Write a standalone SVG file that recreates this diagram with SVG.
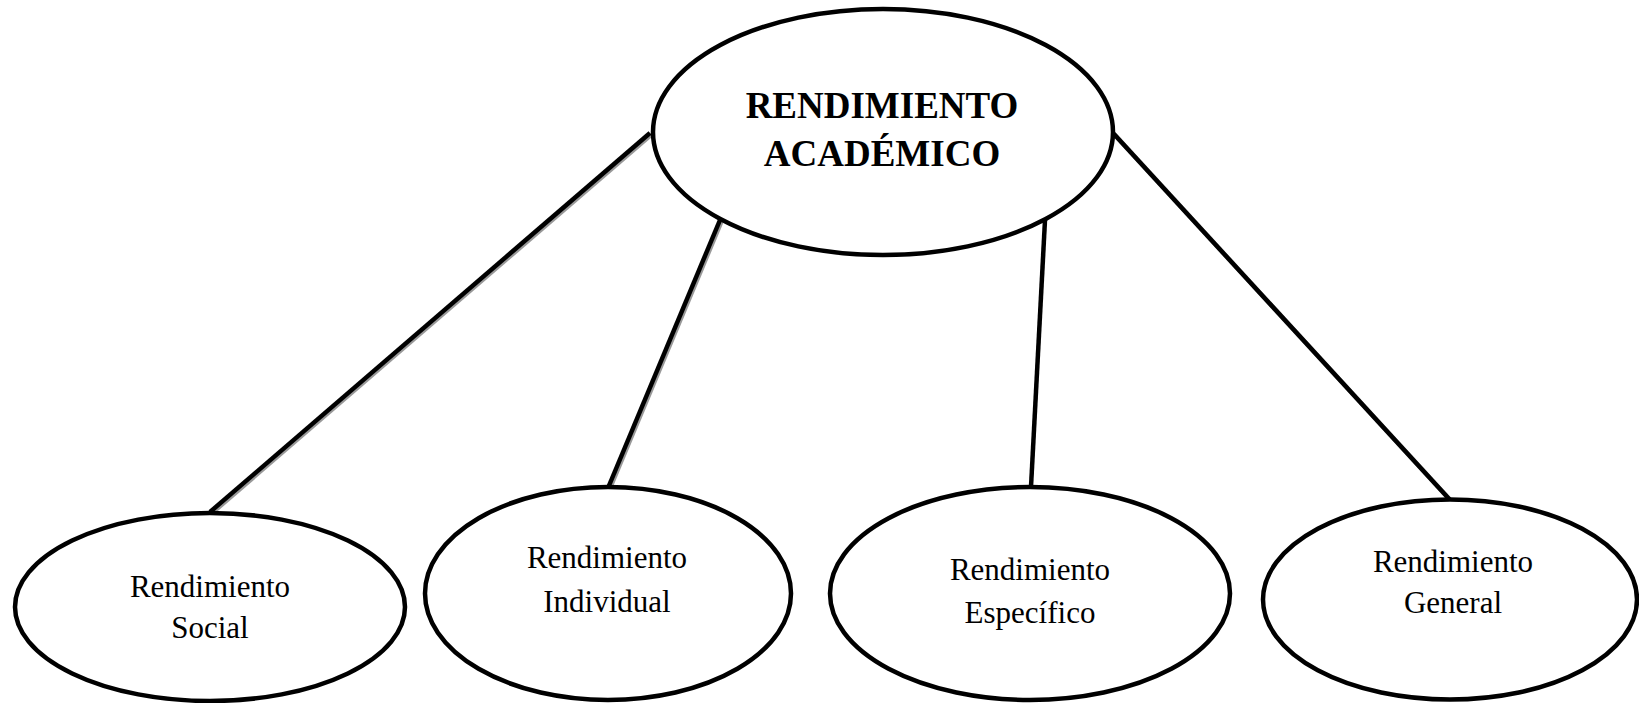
<svg xmlns="http://www.w3.org/2000/svg" width="1639" height="703" viewBox="0 0 1639 703">
<style>
.node{fill:#fff;stroke:#000;stroke-width:4.5}
.lbl{font-family:"Liberation Serif","Times New Roman",serif;font-size:31px;fill:#000;text-anchor:middle}
.title{font-family:"Liberation Serif","Times New Roman",serif;font-size:37px;font-weight:bold;fill:#000;text-anchor:middle}
.edge{stroke:#000;stroke-width:4.5;fill:none}
.shadow{stroke:#999;stroke-width:4.5;fill:none}
</style>
<rect width="1639" height="703" fill="#fff"/>
<g id="connectors">
<g transform="translate(1.5,1.5)">
<line class="shadow" x1="650" y1="133" x2="210" y2="512"/>
<line class="shadow" x1="720" y1="220" x2="608" y2="488"/>
<line class="shadow" x1="1113" y1="133" x2="1451" y2="501"/>
</g>
<line class="edge" x1="650" y1="133" x2="210" y2="512"/>
<line class="edge" x1="720" y1="220" x2="608" y2="488"/>
<line class="edge" x1="1045" y1="220" x2="1031" y2="487"/>
<line class="edge" x1="1113" y1="133" x2="1451" y2="501"/>
</g>
<g id="root">
<ellipse class="node" cx="883" cy="132" rx="230" ry="123"/>
<text class="title" x="882" y="118">RENDIMIENTO</text>
<text class="title" x="882" y="166">ACADÉMICO</text>
</g>
<g id="social">
<ellipse class="node" cx="210" cy="607" rx="195" ry="94"/>
<text class="lbl" x="210" y="597">Rendimiento</text>
<text class="lbl" x="210" y="638">Social</text>
</g>
<g id="individual">
<ellipse class="node" cx="608" cy="593.5" rx="183" ry="106.5"/>
<text class="lbl" x="607" y="568">Rendimiento</text>
<text class="lbl" x="607" y="612">Individual</text>
</g>
<g id="especifico">
<ellipse class="node" cx="1030" cy="593.5" rx="200" ry="106.5"/>
<text class="lbl" x="1030" y="580">Rendimiento</text>
<text class="lbl" x="1030" y="623">Específico</text>
</g>
<g id="general">
<ellipse class="node" cx="1450" cy="599.5" rx="187" ry="100"/>
<text class="lbl" x="1453" y="572">Rendimiento</text>
<text class="lbl" x="1453" y="613">General</text>
</g>
</svg>
